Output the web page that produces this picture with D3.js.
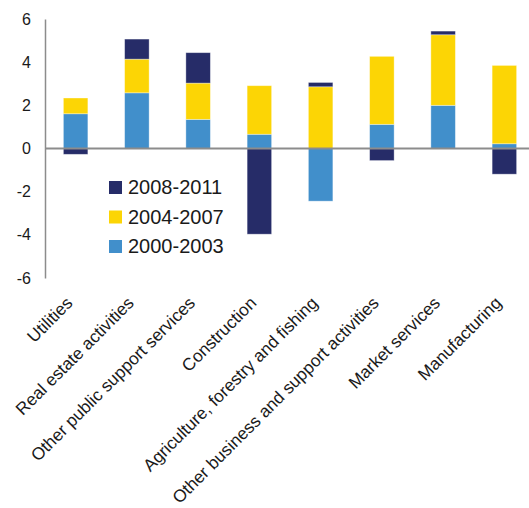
<!DOCTYPE html>
<html><head><meta charset="utf-8">
<script src="https://cdn.jsdelivr.net/npm/d3@7"></script>
<style>body{margin:0;background:#fff}svg{display:block}text{font-family:"Liberation Sans",Arial,sans-serif;fill:#1a1a1a}</style>
</head><body><svg id="c" width="529" height="508"></svg>
<script>
const categories = ["Utilities","Real estate activities","Other public support services","Construction","Agriculture, forestry and fishing","Other business and support activities","Market services","Manufacturing"];
const seriesNames = ["2000-2003","2004-2007","2008-2011"];
const s2000_2003 = [1.61, 2.58, 1.35, 0.66, -2.44, 1.12, 2.00, 0.22];
const s2004_2007 = [0.73, 1.56, 1.68, 2.25, 2.86, 3.15, 3.27, 3.63];
const s2008_2011 = [-0.27, 0.93, 1.41, -3.97, 0.20, -0.56, 0.17, -1.19];
const yTicks = [-6,-4,-2,0,2,4,6];
const colors = ["#418fcb","#fcd505","#262c68"];

const rows = categories.map((c,i)=>({cat:c,"2000-2003":s2000_2003[i],"2004-2007":s2004_2007[i],"2008-2011":s2008_2011[i]}));
const svg = d3.select("#c");
const x = d3.scaleBand().domain(categories).range([45,535]).paddingInner(0.6).paddingOuter(0.3);
const y = d3.scaleLinear().domain([-6,6]).range([278,19]);
const stack = d3.stack().keys(seriesNames).offset(d3.stackOffsetDiverging);
const layers = stack(rows);

svg.append("g").selectAll("g").data(layers).join("g")
  .attr("fill",(d,i)=>colors[i])
  .selectAll("rect").data(d=>d).join("rect")
  .attr("x",d=>x(d.data.cat))
  .attr("width",x.bandwidth())
  .attr("y",d=>y(Math.max(d[0],d[1])))
  .attr("height",d=>Math.abs(y(d[0])-y(d[1])))
  .attr("stroke","#ffffff").attr("stroke-opacity",0.45).attr("stroke-width",0.8);

// y axis
const yAxis = d3.axisLeft(y).tickValues(yTicks).tickSize(0).tickPadding(14).tickFormat(d=>String(d));
const ga = svg.append("g").attr("transform","translate(45,0)").call(yAxis);
ga.select(".domain").attr("stroke","#8c8c8c").attr("stroke-width",1.5);
ga.selectAll("text").attr("font-size",16).attr("fill","#1a1a1a").style("font-family","Liberation Sans, Arial, sans-serif");

// zero line
svg.append("line").attr("x1",45).attr("x2",529).attr("y1",y(0)).attr("y2",y(0))
  .attr("stroke","#8c8c8c").attr("stroke-width",2);

// x labels
svg.append("g").selectAll("text").data(categories).join("text")
  .attr("transform",d=>`translate(${x(d)+x.bandwidth()/2-10.5},${295.5}) rotate(-45)`)
  .attr("text-anchor","end").attr("dy","0.7em")
  .attr("font-size",17.3).text(d=>d);

// legend
const legendItems = [...seriesNames].reverse();
const lg = svg.append("g").attr("transform","translate(109,181)");
legendItems.forEach((n,i)=>{
  const g = lg.append("g").attr("transform",`translate(0,${i*29.5})`);
  g.append("rect").attr("width",13).attr("height",13).attr("fill",colors[seriesNames.indexOf(n)]);
  g.append("text").attr("x",19).attr("y",13).attr("font-size",20).text(n);
});
</script></body></html>
